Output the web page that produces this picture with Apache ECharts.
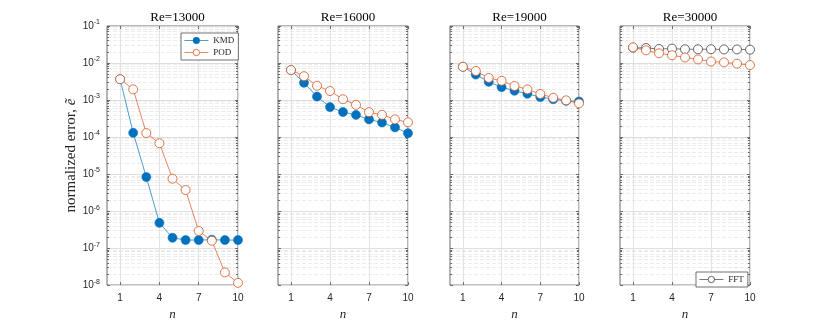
<!DOCTYPE html>
<html>
<head>
<meta charset="utf-8">
<script src="https://cdn.jsdelivr.net/npm/echarts@6/dist/echarts.min.js"></script>
<style>
  html, body { margin: 0; background: #fff; }
  #chart { width: 830px; height: 326px; }
</style>
</head>
<body>
<div id="chart"></div>
<script>
// data
const categories = ['0', '1', '2', '3', '4', '5', '6', '7', '8', '9', '10'];
const modes = [1, 2, 3, 4, 5, 6, 7, 8, 9, 10];
const titles = ['Re=13000', 'Re=16000', 'Re=19000', 'Re=30000'];

const kmd13000 = [3.66e-3, 1.3e-4, 8.3e-6, 4.8e-7, 1.9e-7, 1.65e-7, 1.65e-7, 1.68e-7, 1.65e-7, 1.65e-7];
const pod13000 = [3.66e-3, 1.94e-3, 1.28e-4, 6.8e-5, 7.5e-6, 3.7e-6, 2.9e-7, 1.58e-7, 2.2e-8, 1.15e-8];
const kmd16000 = [6.45e-3, 2.92e-3, 1.24e-3, 6.45e-4, 4.75e-4, 3.97e-4, 3.0e-4, 2.46e-4, 1.82e-4, 1.27e-4];
const pod16000 = [6.45e-3, 4.4e-3, 2.43e-3, 1.75e-3, 1.05e-3, 7.4e-4, 4.7e-4, 3.98e-4, 3.0e-4, 2.5e-4];
const kmd19000 = [7.9e-3, 4.86e-3, 3.1e-3, 2.23e-3, 1.78e-3, 1.48e-3, 1.2e-3, 1.05e-3, 9.5e-4, 9.1e-4];
const pod19000 = [7.9e-3, 6.1e-3, 3.96e-3, 3.3e-3, 2.4e-3, 1.94e-3, 1.46e-3, 1.15e-3, 9.8e-4, 8.1e-4];
const fft30000 = [2.6e-2, 2.54e-2, 2.4e-2, 2.45e-2, 2.35e-2, 2.35e-2, 2.35e-2, 2.33e-2, 2.33e-2, 2.3e-2];
const pod30000 = [2.65e-2, 2.2e-2, 1.83e-2, 1.62e-2, 1.41e-2, 1.25e-2, 1.1e-2, 1.04e-2, 9.6e-3, 8.8e-3];

const BLUE = '#0072BD';
const ORANGE = '#D95319';
const GRAYM = '#404040';
const AX = '#6b6b6b';
const SERIF = 'Liberation Serif';
const SANS = 'Liberation Sans';

// panel placement
const panels = [
  { left: 107, width: 131 },
  { left: 278, width: 130 },
  { left: 450, width: 129 },
  { left: 620, width: 130 }
];

const showN = (idx) => idx > 0 && (idx - 1) % 3 === 0;

const grids = panels.map(p => ({
  left: p.left, width: p.width, top: 26, height: 263,
  show: true, borderColor: AX, borderWidth: 1, backgroundColor: '#fff'
}));

const xAxes = [];
const yAxes = [];
panels.forEach((p, g) => {
  ['bottom', 'top'].forEach(pos => {
    xAxes.push({
      type: 'category', gridIndex: g, position: pos, data: categories, boundaryGap: false,
      axisLine: { show: false },
      axisTick: { show: true, inside: true, length: 3, interval: showN, lineStyle: { color: AX } },
      axisLabel: {
        show: pos === 'bottom', interval: showN, margin: 8,
        fontFamily: SANS, fontSize: 10, color: '#262626'
      },
      splitLine: { show: pos === 'bottom', interval: showN, lineStyle: { color: '#e3e3e3', width: 1 } },
      name: pos === 'bottom' ? 'n' : '',
      nameLocation: 'middle', nameGap: 20,
      nameTextStyle: { fontFamily: SERIF, fontStyle: 'italic', fontSize: 13, color: '#262626' }
    });
  });
  ['left', 'right'].forEach(pos => {
    const main = pos === 'left';
    yAxes.push({
      type: 'log', gridIndex: g, position: pos, logBase: 10, min: 1e-8, max: 1e-1,
      axisLine: { show: false },
      axisTick: { show: true, inside: true, length: 3, lineStyle: { color: AX } },
      minorTick: { show: true, splitNumber: 9, length: 2, lineStyle: { color: AX } },
      splitLine: { show: main, lineStyle: { color: '#dedede', width: 1 } },
      minorSplitLine: { show: main, lineStyle: { color: '#ececec', width: 1, type: 'dashed' } },
      axisLabel: {
        show: main && g === 0, margin: 7, color: '#262626',
        formatter: v => '{b|10}{s|' + Math.round(Math.log10(v)) + '}',
        rich: {
          b: { fontFamily: SANS, fontSize: 10, color: '#262626' },
          s: { fontFamily: SANS, fontSize: 7, color: '#262626', padding: [0, 0, 7, 0] }
        }
      },
      name: main && g === 0 ? 'normalized error, {i|ẽ}' : '',
      nameLocation: 'middle', nameGap: 27,
      nameTextStyle: {
        fontFamily: SERIF, fontSize: 15, color: '#262626',
        rich: { i: { fontFamily: SERIF, fontStyle: 'italic', fontSize: 15, color: '#262626' } }
      }
    });
  });
});

const pairs = vals => modes.map((n, i) => [String(n), vals[i]]);

function filled(name, g, vals, color) {
  return {
    type: 'line', name, xAxisIndex: 2 * g, yAxisIndex: 2 * g, data: pairs(vals),
    symbol: 'circle', symbolSize: 9, showSymbol: true, showAllSymbol: true,
    lineStyle: { color, width: 0.7 },
    itemStyle: { color, borderColor: color, borderWidth: 0.6 },
    emphasis: { disabled: true }
  };
}
function hollow(name, g, vals, color) {
  return {
    type: 'line', name, xAxisIndex: 2 * g, yAxisIndex: 2 * g, data: pairs(vals),
    symbol: 'circle', symbolSize: 9, showSymbol: true, showAllSymbol: true,
    lineStyle: { color, width: 0.7 },
    itemStyle: { color: '#fff', borderColor: color, borderWidth: 0.8 },
    emphasis: { disabled: true }
  };
}

const series = [
  filled('KMD', 0, kmd13000, BLUE),
  hollow('POD', 0, pod13000, ORANGE),
  filled('KMD', 1, kmd16000, BLUE),
  hollow('POD', 1, pod16000, ORANGE),
  filled('KMD', 2, kmd19000, BLUE),
  hollow('POD', 2, pod19000, ORANGE),
  hollow('FFT', 3, fft30000, GRAYM),
  hollow('POD', 3, pod30000, ORANGE)
];

const legendStyle = {
  orient: 'vertical', backgroundColor: '#fff', borderColor: '#333', borderWidth: 0.7,
  borderRadius: 0, padding: [3, 4, 3, 3], itemGap: 3, itemWidth: 24, itemHeight: 8,
  lineStyle: { width: 0.7 },
  itemStyle: { borderWidth: 0.8 },
  textStyle: { fontFamily: SERIF, fontSize: 9, color: '#262626' },
  selectedMode: false
};

const option = {
  backgroundColor: '#fff',
  animation: false,
  title: panels.map((p, g) => ({
    text: titles[g], left: p.left + p.width / 2, top: 6, textAlign: 'center',
    textStyle: { fontFamily: SERIF, fontSize: 13, fontWeight: 'normal', color: '#000' }
  })),
  legend: [
    Object.assign({ data: ['KMD', 'POD'], left: 181, top: 33 }, legendStyle),
    Object.assign({ data: ['FFT'], left: 696, top: 272 }, legendStyle)
  ],
  grid: grids,
  xAxis: xAxes,
  yAxis: yAxes,
  series
};

const chart = echarts.init(document.getElementById('chart'), null, { renderer: 'canvas' });
chart.setOption(option);
</script>
</body>
</html>
